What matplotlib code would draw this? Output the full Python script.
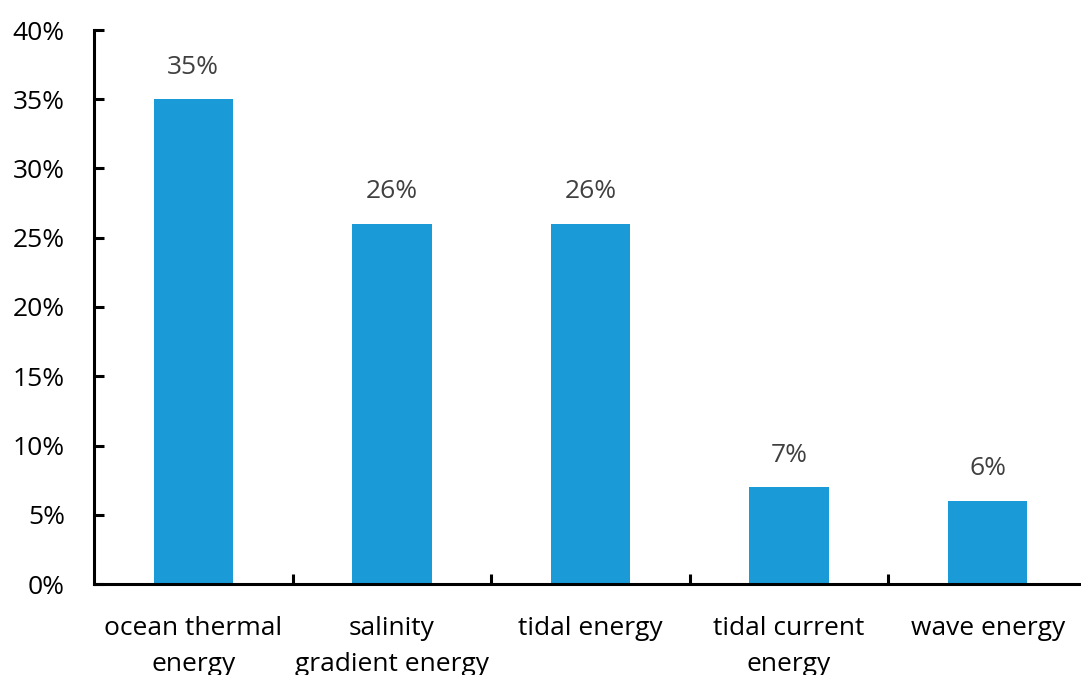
import numpy as np
import matplotlib.pyplot as plt
from matplotlib.ticker import FuncFormatter

categories = ["ocean thermal\nenergy", "salinity\ngradient energy", "tidal energy",
              "tidal current\nenergy", "wave energy"]
shares = [35, 26, 26, 7, 6]
yticks = [0, 5, 10, 15, 20, 25, 30, 35, 40]

plt.rcParams['font.family'] = ['Open Sans', 'DejaVu Sans']

fig = plt.figure(figsize=(10.81, 6.75), dpi=100)
W, H = 1081, 675
# axes box in pixels: left spine x=94, bottom y=584, top (40%) y=30, right past the edge
ax = fig.add_axes([94 / W, 1 - 584 / H, 993 / W, (584 - 30) / H])

x = np.arange(len(categories))
ax.bar(x, shares, width=0.4, color="#1a9ad6", zorder=2)

for xi, v in zip(x, shares):
    ax.annotate(f"{v}%", (xi, v), xytext=(0, 14), textcoords="offset points",
                ha="center", va="bottom", fontsize=19, color="#404040")

ax.set_xlim(-0.5, len(categories) - 0.5)
ax.set_ylim(0, 40)
ax.set_yticks(yticks)
ax.yaxis.set_major_formatter(FuncFormatter(lambda v, p: f"{v:.0f}%"))

# category labels centered, ticks on category boundaries
ax.set_xticks(x)
ax.set_xticklabels(categories, fontsize=19, linespacing=1.6)
ax.tick_params(axis="x", which="major", length=0, pad=23)
ax.set_xticks(np.arange(0.5, len(categories) - 0.5), minor=True)
ax.tick_params(axis="x", which="minor", direction="in", length=7, width=2.2)

ax.tick_params(axis="y", direction="in", length=7, width=2.2, labelsize=19, pad=21)

for s in ["top", "right"]:
    ax.spines[s].set_visible(False)
for s in ["left", "bottom"]:
    ax.spines[s].set_linewidth(2.2)

fig.savefig("out.png", dpi=100)
